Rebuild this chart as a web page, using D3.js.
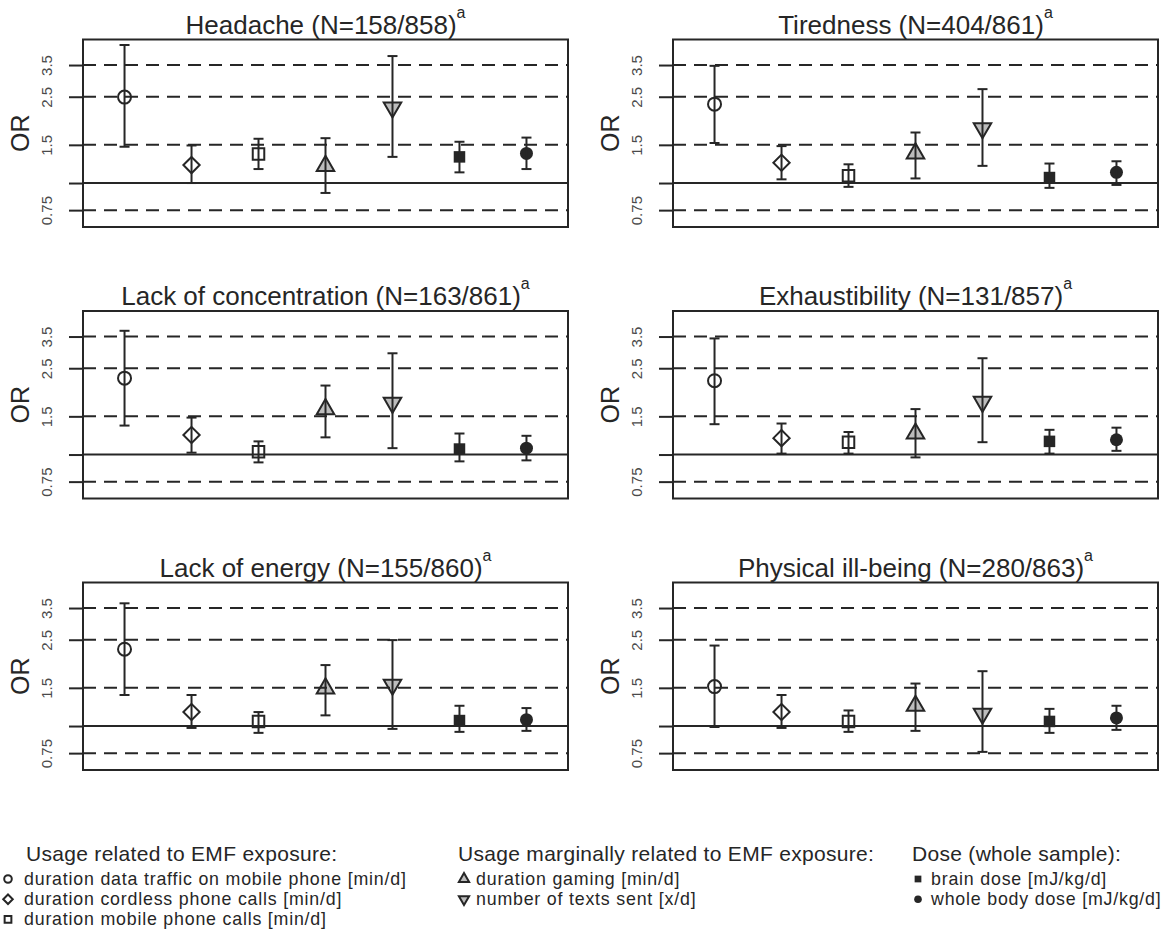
<!DOCTYPE html>
<html>
<head>
<meta charset="utf-8">
<script src="https://cdn.jsdelivr.net/npm/d3@7"></script>
<style>
  body { margin: 0; background: #fff; }
  svg { display: block; font-family: "Liberation Sans", Arial, sans-serif; }
</style>
</head>
<body>
<div id="chart"></div>
<script>
// symptoms (one panel each) and their case counts
var symptoms = ["Headache", "Tiredness", "Lack of concentration", "Exhaustibility", "Lack of energy", "Physical ill-being"];
var cases = ["158/858", "404/861", "163/861", "131/857", "155/860", "280/863"];

// exposure variables, in plotting order
var exposures = ["data", "cordless", "mobile", "gaming", "texts", "brain", "body"];

// odds ratios and 95% CI, one row per symptom, one column per exposure
var orEstimate = [
    [2.49, 1.21, 1.36, 1.20, 2.23, 1.32, 1.37],
    [2.31, 1.24, 1.08, 1.37, 1.79, 1.06, 1.12],
    [2.25, 1.23, 1.03, 1.62, 1.73, 1.06, 1.07],
    [2.19, 1.19, 1.14, 1.25, 1.75, 1.15, 1.17],
    [2.26, 1.16, 1.05, 1.49, 1.55, 1.06, 1.07],
    [1.52, 1.16, 1.05, 1.24, 1.14, 1.05, 1.09]
];
var ciLower = [
    [1.47, 1.00, 1.16, 0.90, 1.32, 1.12, 1.16],
    [1.53, 1.04, 0.96, 1.05, 1.20, 0.95, 0.98],
    [1.36, 1.02, 0.92, 1.20, 1.07, 0.93, 0.94],
    [1.38, 1.01, 1.01, 0.97, 1.14, 1.01, 1.04],
    [1.39, 0.98, 0.93, 1.12, 0.97, 0.94, 0.95],
    [0.99, 0.98, 0.94, 0.95, 0.76, 0.93, 0.96]
];
var ciUpper = [
    [4.33, 1.49, 1.60, 1.61, 3.85, 1.55, 1.62],
    [3.47, 1.48, 1.22, 1.71, 2.71, 1.23, 1.26],
    [3.72, 1.48, 1.15, 2.08, 2.93, 1.25, 1.22],
    [3.43, 1.39, 1.27, 1.62, 2.78, 1.30, 1.33],
    [3.68, 1.39, 1.16, 1.91, 2.49, 1.24, 1.21],
    [2.35, 1.39, 1.18, 1.57, 1.79, 1.20, 1.24]
];

var dashedAt = [0.75, 1.5, 2.5, 3.5];
var tickValues = [0.75, 1, 1.5, 2.5, 3.5];
var tickLabels = ["0.75", "", "1.5", "2.5", "3.5"];

// legend groups
var legendHeads = ["Usage related to EMF exposure:", "Usage marginally related to EMF exposure:", "Dose (whole sample):"];
var legendItems = [
    ["duration data traffic on mobile phone [min/d]", "duration cordless phone calls [min/d]", "duration mobile phone calls [min/d]"],
    ["duration gaming [min/d]", "number of texts sent [x/d]"],
    ["brain dose [mJ/kg/d]", "whole body dose [mJ/kg/d]"]
];
var legendShapes = [["data", "cordless", "mobile"], ["gaming", "texts"], ["brain", "body"]];

var width = 1162, height = 929;
var ink = "#262626";
var grey = "#bdbdbd";
var boxW = 485, boxH = 187.5;
var colX = [83, 673];
var rowY = [39.5, 311, 582.5];

var svg = d3.select("#chart").append("svg")
    .attr("width", width)
    .attr("height", height);

var x = d3.scaleLinear().domain([0.38, 7.62]).range([0, boxW]);
var y = d3.scaleLog().domain([0.627, 4.59]).range([boxH, 0]);

// marker outline in R pch style, size s = circle radius
function shape(type, s) {
    var p = d3.path();
    var sq = s * 0.886, dm = s * 1.2533, r = s * 1.5551;
    var xc = r * Math.sqrt(3) / 2, yc = r / 2;
    if (type === "data" || type === "body") {
        p.arc(0, 0, s, 0, 2 * Math.PI);
    } else if (type === "mobile" || type === "brain") {
        p.rect(-sq, -sq, 2 * sq, 2 * sq);
    } else if (type === "cordless") {
        p.moveTo(0, -dm); p.lineTo(dm, 0); p.lineTo(0, dm); p.lineTo(-dm, 0); p.closePath();
    } else if (type === "gaming") {
        p.moveTo(0, -r); p.lineTo(xc, yc); p.lineTo(-xc, yc); p.closePath();
    } else if (type === "texts") {
        p.moveTo(0, r); p.lineTo(xc, -yc); p.lineTo(-xc, -yc); p.closePath();
    }
    return p.toString();
}

function fillOf(type) {
    if (type === "gaming" || type === "texts") return grey;
    if (type === "brain" || type === "body") return ink;
    return "none";
}

symptoms.forEach(function (name, k) {
    var g = svg.append("g")
        .attr("transform", "translate(" + colX[k % 2] + "," + rowY[Math.floor(k / 2)] + ")");

    var rows = exposures.map(function (e, i) {
        return { type: e, pos: i + 1, or: orEstimate[k][i], lo: ciLower[k][i], hi: ciUpper[k][i] };
    });

    // points first, lines drawn over them
    g.selectAll(".pt")
        .data(rows)
        .enter().append("path")
        .attr("class", "pt")
        .attr("transform", function (d) { return "translate(" + x(d.pos) + "," + y(d.or) + ")"; })
        .attr("d", function (d) { return shape(d.type, 6.5); })
        .attr("fill", function (d) { return fillOf(d.type); })
        .attr("stroke", ink)
        .attr("stroke-width", function (d) { return d.type === "brain" || d.type === "body" ? 0 : 2; });

    g.selectAll(".dash")
        .data(dashedAt)
        .enter().append("line")
        .attr("x1", 0).attr("x2", boxW)
        .attr("y1", function (d) { return y(d); })
        .attr("y2", function (d) { return y(d); })
        .attr("stroke", ink)
        .attr("stroke-width", 2)
        .attr("stroke-dasharray", "13,8");

    g.append("line")
        .attr("x1", 0).attr("x2", boxW)
        .attr("y1", y(1)).attr("y2", y(1))
        .attr("stroke", ink)
        .attr("stroke-width", 2);

    // error bars
    var bars = g.selectAll(".bar")
        .data(rows)
        .enter().append("g")
        .attr("class", "bar")
        .attr("stroke", ink)
        .attr("stroke-width", 2);
    bars.append("line")
        .attr("x1", function (d) { return x(d.pos); })
        .attr("x2", function (d) { return x(d.pos); })
        .attr("y1", function (d) { return y(d.lo); })
        .attr("y2", function (d) { return y(d.hi); });
    bars.append("line")
        .attr("x1", function (d) { return x(d.pos) - 5; })
        .attr("x2", function (d) { return x(d.pos) + 5; })
        .attr("y1", function (d) { return y(d.lo); })
        .attr("y2", function (d) { return y(d.lo); });
    bars.append("line")
        .attr("x1", function (d) { return x(d.pos) - 5; })
        .attr("x2", function (d) { return x(d.pos) + 5; })
        .attr("y1", function (d) { return y(d.hi); })
        .attr("y2", function (d) { return y(d.hi); });

    // y axis
    var axis = d3.axisLeft(y)
        .tickValues(tickValues)
        .tickSize(14)
        .tickFormat(function (d, i) { return tickLabels[i]; });
    var ax = g.append("g").call(axis);
    ax.select(".domain").remove();
    ax.selectAll(".tick line").attr("stroke", ink).attr("stroke-width", 2);
    ax.selectAll(".tick text")
        .attr("x", null).attr("dy", null)
        .attr("transform", "translate(-31,0) rotate(-90)")
        .attr("text-anchor", "middle")
        .attr("font-size", 15)
        .attr("font-family", "Liberation Sans, Arial, sans-serif")
        .attr("fill", "#4a4a4a");

    g.append("rect")
        .attr("width", boxW).attr("height", boxH)
        .attr("fill", "none")
        .attr("stroke", ink)
        .attr("stroke-width", 2);

    g.append("text")
        .attr("transform", "translate(-54," + (boxH / 2) + ") rotate(-90)")
        .attr("text-anchor", "middle")
        .attr("font-size", 25)
        .attr("fill", ink)
        .text("OR");

    var title = g.append("text")
        .attr("x", boxW / 2)
        .attr("y", -6)
        .attr("text-anchor", "middle")
        .attr("font-size", 26)
        .attr("fill", ink);
    title.append("tspan").text(name + " (N=" + cases[k] + ")");
    title.append("tspan").attr("dy", -16).attr("font-size", 16).text("a");
});

// legend
var legX = [26, 458, 912];
legendHeads.forEach(function (head, c) {
    var lg = svg.append("g").attr("transform", "translate(" + legX[c] + ",861)");
    lg.append("text")
        .attr("font-size", 21)
        .attr("letter-spacing", 0.3)
        .attr("fill", ink)
        .text(head);
    var items = lg.selectAll(".item")
        .data(legendItems[c])
        .enter().append("g")
        .attr("transform", function (d, i) { return "translate(0," + (24 + i * 20.2) + ")"; });
    items.append("path")
        .attr("transform", c === 0 ? "translate(-18,-6)" : "translate(6,-6)")
        .attr("d", function (d, i) { return shape(legendShapes[c][i], 3.8); })
        .attr("fill", function (d, i) { return fillOf(legendShapes[c][i]); })
        .attr("stroke", ink)
        .attr("stroke-width", function (d, i) {
            var t = legendShapes[c][i];
            return t === "brain" || t === "body" ? 0 : 2;
        });
    items.append("text")
        .attr("x", c === 0 ? -2 : (c === 1 ? 18 : 19))
        .attr("font-size", 17.8)
        .attr("letter-spacing", 0.8)
        .attr("fill", ink)
        .text(function (d) { return d; });
});
</script>
</body>
</html>
